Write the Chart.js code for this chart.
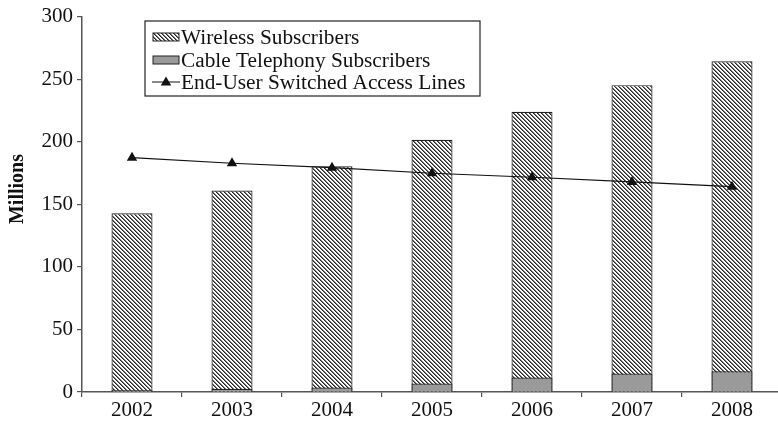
<!DOCTYPE html>
<html>
<head>
<meta charset="utf-8">
<script src="https://cdn.jsdelivr.net/npm/chart.js@4.4.1/dist/chart.umd.min.js"></script>
<style>
    html, body { margin: 0; padding: 0; background: #fff; overflow: hidden; }
    #wrap { width: 778px; height: 421px; overflow: hidden; }
    #box { width: 790px; height: 421px; position: relative; }
</style>
</head>
<body>
<div id="wrap"><div id="box"><canvas id="lineChart"></canvas></div></div>
<script>
const years = ['2002', '2003', '2004', '2005', '2006', '2007', '2008'];
const wireless = [142.9, 161.0, 180.4, 201.6, 223.9, 245.2, 264.3];
const cable = [1.6, 2.5, 3.6, 6.8, 11.6, 14.8, 16.6];
const accessLines = [187.3, 182.8, 179.3, 174.8, 171.6, 167.9, 164.1];
const yTicks = [0, 50, 100, 150, 200, 250, 300];

const serif = '"Liberation Serif", "DejaVu Serif", serif';
const axisColor = '#555';

// diagonal hatch ("\") used for the wireless bars, built pixel by pixel
function makeHatch() {
    const size = 4;
    const c = document.createElement('canvas');
    c.width = size;
    c.height = size;
    const g = c.getContext('2d');
    const img = g.createImageData(size, size);
    for (let y = 0; y < size; y++) {
        for (let x = 0; x < size; x++) {
            const d = ((x - y) % size + size) % size;
            const v = d === 0 ? 40 : (d === 1 ? 120 : 255);
            const i = (y * size + x) * 4;
            img.data[i] = img.data[i + 1] = img.data[i + 2] = v;
            img.data[i + 3] = 255;
        }
    }
    g.putImageData(img, 0, 0);
    return g.createPattern(c, 'repeat');
}
const hatch = makeHatch();

function triangle(ctx, x, y, r) {
    ctx.beginPath();
    ctx.moveTo(x, y - r);
    ctx.lineTo(x + r * 0.95, y + r * 0.65);
    ctx.lineTo(x - r * 0.95, y + r * 0.65);
    ctx.closePath();
    ctx.fill();
}

// boxed legend inside the plot, plus the rotated axis caption
const boxLegend = {
    id: 'boxLegend',
    afterDraw(chart) {
        const ctx = chart.ctx;
        const x0 = 145, y0 = 21, w = 335, h = 75;
        ctx.save();
        ctx.fillStyle = '#fff';
        ctx.fillRect(x0, y0, w, h);
        ctx.strokeStyle = '#222';
        ctx.lineWidth = 1.2;
        ctx.strokeRect(x0, y0, w, h);

        const rows = [37, 60, 82];
        ctx.font = '21.3px ' + serif;
        ctx.fillStyle = '#111';
        ctx.textBaseline = 'middle';
        ctx.fillText('Wireless Subscribers', 181, rows[0] + 1);
        ctx.fillText('Cable Telephony Subscribers', 181, rows[1] + 1);
        ctx.fillText('End-User Switched Access Lines', 181, rows[2] + 1);

        ctx.lineWidth = 1;
        ctx.strokeStyle = '#222';
        ctx.fillStyle = hatch;
        ctx.fillRect(153, rows[0] - 4, 26, 8);
        ctx.strokeRect(153, rows[0] - 4, 26, 8);
        ctx.fillStyle = '#9a9a9a';
        ctx.fillRect(153, rows[1] - 4, 26, 8);
        ctx.strokeRect(153, rows[1] - 4, 26, 8);

        ctx.strokeStyle = '#111';
        ctx.beginPath();
        ctx.moveTo(152, rows[2]);
        ctx.lineTo(180, rows[2]);
        ctx.stroke();
        ctx.fillStyle = '#111';
        triangle(ctx, 166, rows[2], 5.5);

        ctx.translate(18, 189);
        ctx.rotate(-Math.PI / 2);
        ctx.textAlign = 'center';
        ctx.font = 'bold 20px ' + serif;
        ctx.fillText('Millions', 0, 0);
        ctx.restore();
    }
};

const ctx = document.getElementById('lineChart').getContext('2d');
new Chart(ctx, {
    type: 'bar',
    data: {
        labels: years,
        datasets: [
            {
                type: 'line',
                label: 'End-User Switched Access Lines',
                data: accessLines,
                borderColor: '#111',
                borderWidth: 1.2,
                backgroundColor: '#111',
                pointStyle: 'triangle',
                pointRadius: 6,
                pointBorderWidth: 0,
                tension: 0,
                order: 0
            },
            {
                label: 'Cable Telephony Subscribers',
                data: cable,
                backgroundColor: '#9a9a9a',
                borderColor: '#222',
                borderWidth: 1.2,
                categoryPercentage: 1,
                barPercentage: 0.41,
                order: 1
            },
            {
                label: 'Wireless Subscribers',
                data: wireless,
                backgroundColor: hatch,
                borderColor: '#222',
                borderWidth: 1.2,
                categoryPercentage: 1,
                barPercentage: 0.41,
                order: 2
            }
        ]
    },
    options: {
        responsive: true,
        maintainAspectRatio: false,
        animation: false,
        layout: { padding: { top: 15, right: 8, bottom: 0, left: 0 } },
        plugins: {
            legend: { display: false },
            tooltip: { enabled: false }
        },
        scales: {
            x: {
                stacked: true,
                afterFit: scale => { scale.height = 29; },
                grid: {
                    offset: true,
                    drawOnChartArea: false,
                    drawTicks: true,
                    tickLength: 5,
                    color: axisColor,
                    lineWidth: 1.2
                },
                border: { color: axisColor, width: 1.5 },
                ticks: {
                    color: '#111',
                    padding: 1,
                    font: { family: serif, size: 21 }
                }
            },
            y: {
                stacked: false,
                min: 0,
                max: 300,
                afterFit: scale => { scale.width = 82; },
                afterBuildTicks: scale => {
                    scale.ticks = yTicks.map(v => ({ value: v }));
                },
                grid: {
                    drawOnChartArea: false,
                    drawTicks: true,
                    tickLength: 5,
                    color: axisColor,
                    lineWidth: 1.2
                },
                border: { color: axisColor, width: 1.5 },
                ticks: {
                    color: '#111',
                    padding: 4,
                    font: { family: serif, size: 21 }
                }
            }
        }
    },
    plugins: [boxLegend]
});
</script>
</body>
</html>
